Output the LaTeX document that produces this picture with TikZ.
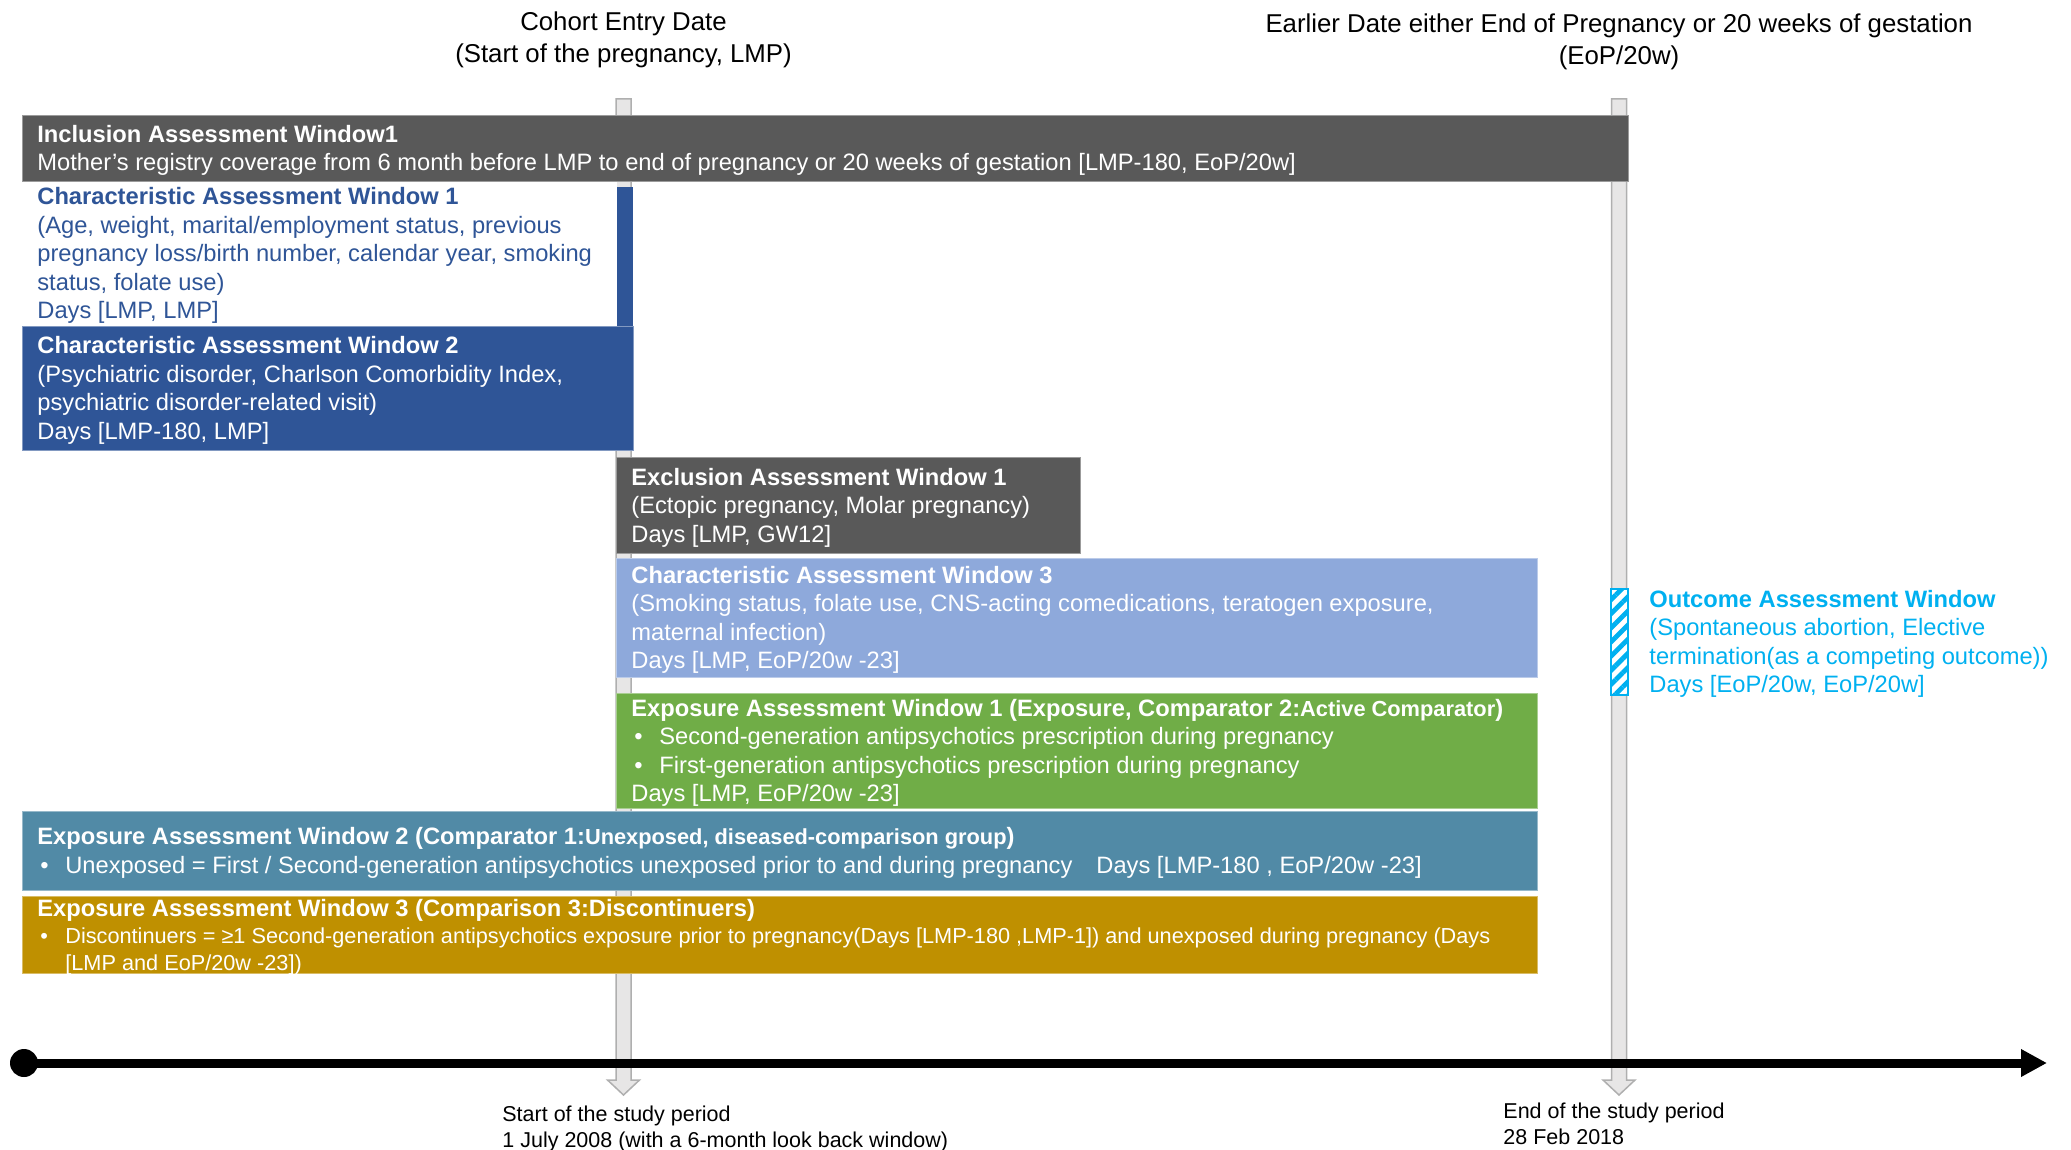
\documentclass[tikz,border=0pt]{standalone}
\usepackage{fontspec}
\setmainfont{Liberation Sans}
\usetikzlibrary{positioning,arrows.meta,patterns.meta}
\definecolor{wingray}{RGB}{89,89,89}
\definecolor{charblue}{RGB}{47,85,151}
\definecolor{charlight}{RGB}{142,169,219}
\definecolor{expgreen}{RGB}{112,173,71}
\definecolor{expteal}{RGB}{81,138,166}
\definecolor{expgold}{RGB}{191,144,0}
\definecolor{outblue}{RGB}{0,176,240}
\definecolor{barfill}{RGB}{231,230,230}
\definecolor{bardraw}{RGB}{175,175,175}
\newcommand{\bul}{\makebox[14pt][l]{\hspace{1.5pt}•}}
\newcommand{\smallbf}{\fontsize{10.9}{14.25}\selectfont}

\begin{document}
\begin{tikzpicture}[x=0.5pt,y=-0.5pt,every node/.style={font=\fontsize{11.85}{14.25}\selectfont},
    winbox/.style={fill=#1,draw=#1!60!white,line width=0.6pt,anchor=north west,inner sep=0pt},
    wintext/.style={align=left,inner xsep=7.5pt,inner ysep=0pt,text=white,anchor=west,yshift=-1pt},
    bar/.style={fill=barfill,draw=bardraw,line width=0.75pt},
    headtext/.style={align=center,inner sep=0pt,font=\fontsize{12.9}{16}\selectfont},
    foottext/.style={align=left,inner sep=0pt,anchor=west,font=\fontsize{10.75}{12.75}\selectfont}]
    \useasboundingbox (0,0) rectangle (2071,1150);
    % LMP and EoP/20w marker bars
    \foreach \bx in {623.5,1619} {
      \draw[bar] ({\bx-7.5},99) -- ({\bx+7.5},99) -- ({\bx+7.5},1080) -- ({\bx+16},1080) -- (\bx,1095)
        -- ({\bx-16},1080) -- ({\bx-7.5},1080) -- cycle;
    }
    \node[headtext] (cohorthead) at (623.5,40) {Cohort Entry Date\\(Start of the pregnancy, LMP)};
    \node[headtext] (eophead) at (1619,42) {Earlier Date either End of Pregnancy or 20 weeks of gestation\\(EoP/20w)};

    % windows
    \node[winbox=wingray,minimum width=803pt,minimum height=33pt] (inclwin) at (22,115) {};
    \node[wintext,right=0pt of inclwin.west] (incltxt) {\textbf{Inclusion Assessment Window1}\\
      Mother’s registry coverage from 6 month before LMP to end of pregnancy or 20 weeks of gestation [LMP-180, EoP/20w]};

    \fill[charblue] (616,187) rectangle (633,326);
    \node[winbox=white,draw=none,minimum width=297pt,minimum height=72pt] (charwin1) at (22,181) {};
    \node[wintext,text=charblue,right=0pt of charwin1.west] (chartxt1) {\textbf{Characteristic Assessment Window 1}\\
      (Age, weight, marital/employment status, previous\\
      pregnancy loss/birth number, calendar year, smoking\\
      status, folate use)\\
      Days [LMP, LMP]};

    \node[winbox=charblue,minimum width=305.5pt,minimum height=62pt] (charwin2) at (22,326) {};
    \node[wintext,right=0pt of charwin2.west] (chartxt2) {\textbf{Characteristic Assessment Window 2}\\
      (Psychiatric disorder, Charlson Comorbidity Index,\\
      psychiatric disorder-related visit)\\
      Days [LMP-180, LMP]};

    \node[winbox=wingray,minimum width=232pt,minimum height=48pt] (exclwin) at (616,457) {};
    \node[wintext,right=0pt of exclwin.west] (excltxt) {\textbf{Exclusion Assessment Window 1}\\
      (Ectopic pregnancy, Molar pregnancy)\\
      Days [LMP, GW12]};

    \node[winbox=charlight,minimum width=460.5pt,minimum height=59.5pt] (charwin3) at (616,558) {};
    \node[wintext,right=0pt of charwin3.west] (chartxt3) {\textbf{Characteristic Assessment Window 3}\\
      (Smoking status, folate use, CNS-acting comedications, teratogen exposure,\\
      maternal infection)\\
      Days [LMP, EoP/20w -23]};

    \node[winbox=expgreen,minimum width=460.5pt,minimum height=57.5pt] (expwin1) at (616,693) {};
    \node[wintext,right=0pt of expwin1.west] (exptxt1) {\textbf{Exposure Assessment Window 1 (Exposure, Comparator 2:{\smallbf Active Comparator})}\\
      \bul Second-generation antipsychotics prescription during pregnancy\\
      \bul First-generation antipsychotics prescription during pregnancy\\
      Days [LMP, EoP/20w -23]};

    \node[winbox=expteal,minimum width=757.5pt,minimum height=39.5pt] (expwin2) at (22,811) {};
    \node[wintext,right=0pt of expwin2.west] (exptxt2) {\textbf{Exposure Assessment Window 2 (Comparator 1:{\smallbf Unexposed, diseased-comparison group})}\\
      \bul Unexposed = First / Second-generation antipsychotics unexposed prior to and during pregnancy\hspace{12pt}Days [LMP-180 , EoP/20w -23]};

    \node[winbox=expgold,minimum width=757.5pt,minimum height=38.5pt] (expwin3) at (22,896) {};
    \node[wintext,font=\fontsize{10.85}{13.5}\selectfont,right=0pt of expwin3.west] (exptxt3) {{\fontsize{11.85}{13.5}\selectfont\bfseries Exposure Assessment Window 3 (Comparison 3:Discontinuers)}\\
      \bul Discontinuers = ≥1 Second-generation antipsychotics exposure prior to pregnancy(Days [LMP-180 ,LMP-1]) and unexposed during pregnancy (Days\\
      \hspace*{14pt}[LMP and EoP/20w -23])};

    % outcome window
    \node[draw=outblue,line width=0.75pt,preaction={fill=white},pattern={Lines[angle=45,distance=5pt,line width=2.4pt]},pattern color=outblue,
      minimum width=8.5pt,minimum height=53pt,inner sep=0pt] (outwin) at (1619.5,642) {};
    \node[align=left,inner sep=0pt,anchor=west,text=outblue] (outtxt) at (1649,644) {\textbf{Outcome Assessment Window}\\
      (Spontaneous abortion, Elective\\
      termination(as a competing outcome))\\
      Days [EoP/20w, EoP/20w]};

    % study period axis
    \node[circle,fill=black,inner sep=0pt,minimum size=14pt] (axisdot) at (24,1063) {};
    \coordinate (axisend) at (2047,1063);
    \draw[line width=4.5pt,-{Triangle[length=13pt,width=13pt]}] (axisdot.center) -- (axisend);
    \node[foottext] (studystart) at (502,1129) {Start of the study period\\1 July 2008 (with a 6-month look back window)};
    \node[foottext] (studyend) at (1503,1124) {End of the study period\\28 Feb 2018};
\end{tikzpicture}
\end{document}
